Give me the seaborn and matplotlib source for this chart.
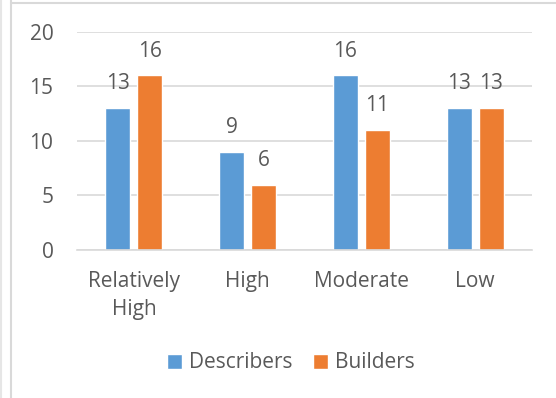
import pandas as pd
import matplotlib
matplotlib.use("Agg")
import matplotlib.pyplot as plt
import seaborn as sns
from matplotlib.lines import Line2D

# Data
categories = ["Relatively\nHigh", "High", "Moderate", "Low"]
describers = [13, 9, 16, 13]
builders = [16, 6, 11, 13]
series = ["Describers", "Builders"]

df = pd.DataFrame({
    "category": categories * 2,
    "count": describers + builders,
    "group": ["Describers"] * 4 + ["Builders"] * 4,
})

sns.set_theme(style="white")
plt.rcParams["font.family"] = ["Open Sans", "DejaVu Sans"]
text_color = "#595959"
grid_color = "#D9D9D9"
fs = 15

fig = plt.figure(figsize=(5.56, 3.98), dpi=100)
ax = fig.add_axes([0.1385, 0.372, 0.8185, 0.548])

sns.barplot(data=df, x="category", y="count", hue="group",
            hue_order=series, order=categories,
            palette=["#5B9BD5", "#ED7D31"], saturation=1,
            width=0.563, gap=0.218, ax=ax, legend=True)

for container in ax.containers:
    ax.bar_label(container, padding=10, fontsize=fs, color=text_color)

ax.set_ylim(0, 20)
ax.set_yticks([0, 5, 10, 15, 20])
ax.yaxis.grid(True, color=grid_color, linewidth=1.2)
ax.set_axisbelow(True)
for side in ["left", "right", "top"]:
    ax.spines[side].set_visible(False)
ax.spines["bottom"].set_color(grid_color)
ax.spines["bottom"].set_linewidth(1.2)
ax.tick_params(axis="both", length=0, labelsize=fs, labelcolor=text_color)
ax.tick_params(axis="y", pad=17)
ax.tick_params(axis="x", pad=15)
for lbl in ax.get_xticklabels():
    lbl.set_linespacing(1.45)
ax.set_xlabel("")
ax.set_ylabel("")

handles, labels = ax.get_legend_handles_labels()
ax.legend(handles, labels, loc="center", bbox_to_anchor=(291 / 556, 1 - 363 / 398),
          bbox_transform=fig.transFigure, ncol=2, frameon=False,
          fontsize=fs, labelcolor=text_color, handlelength=0.7,
          handleheight=0.7, handletextpad=0.35, columnspacing=1.0)

# chart frame pieces visible in the reference
fig.add_artist(Line2D([11 / 556, 11 / 556], [0, 1], color=grid_color, linewidth=1.5))
fig.add_artist(Line2D([11 / 556, 1], [1 - 3 / 398, 1 - 3 / 398], color=grid_color, linewidth=1.5))
fig.add_artist(Line2D([1 / 556, 1 / 556], [0, 1], color="#E6E6E6", linewidth=1.5))

fig.savefig("out.png", dpi=100)
